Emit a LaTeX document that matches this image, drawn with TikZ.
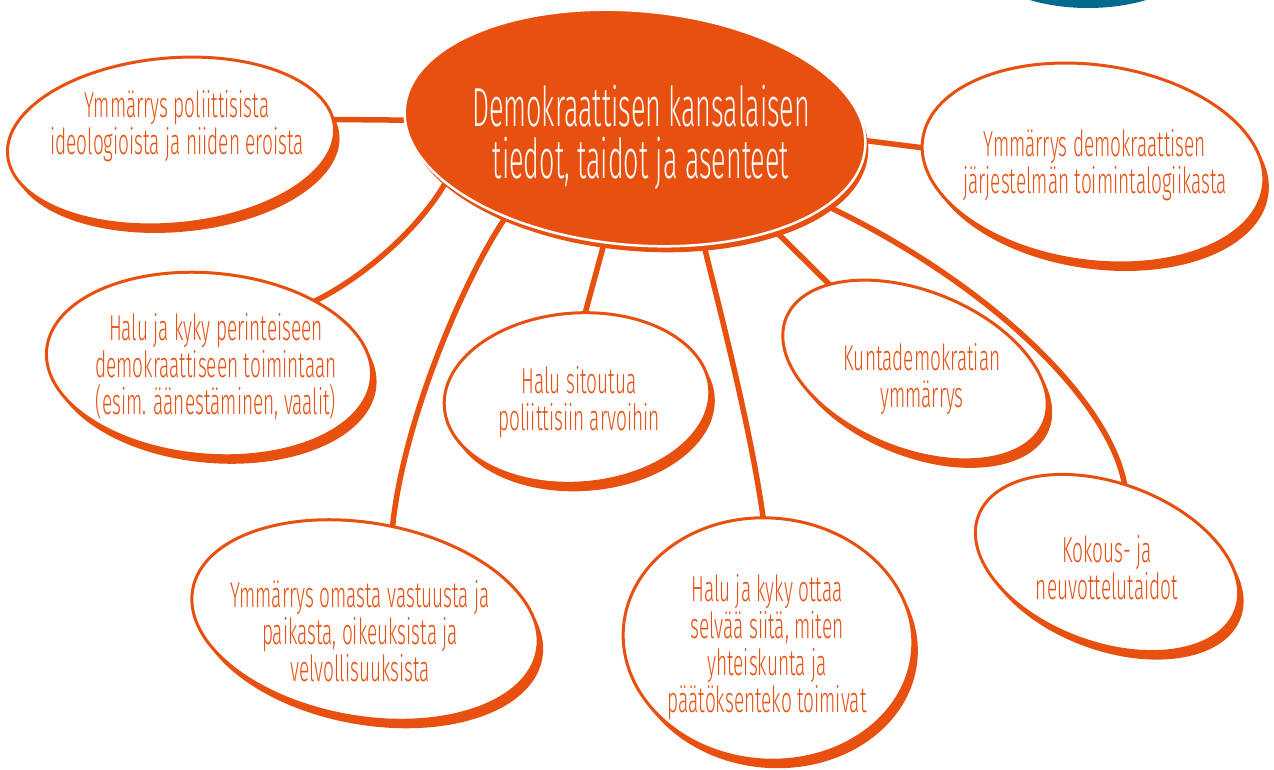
\documentclass[tikz,border=0pt]{standalone}
\usepackage{fontspec}
\setmainfont{Fira Sans}[UprightFont={* Light}, FakeStretch=0.53]
\newfontfamily\hubfont{Fira Sans}[UprightFont={* Light}, FakeStretch=0.49]
\usetikzlibrary{shapes.geometric,shadows,calc}
\definecolor{org}{RGB}{232,80,16}
\definecolor{tealc}{RGB}{0,106,142}
\pgfdeclarelayer{bg}
\pgfsetlayers{bg,main}
\begin{document}
\begin{tikzpicture}[x=1pt,y=-1pt,
  bubble/.style={ellipse, draw=org, line width=3pt, fill=white, inner sep=0pt, outer sep=0pt,
    general shadow={fill=org, shadow xshift=5pt, shadow yshift=-8pt}},
  hub/.style={ellipse, draw=white, line width=2.5pt, fill=org, inner sep=0pt, outer sep=0pt,
    general shadow={fill=org, shadow xshift=3pt, shadow yshift=-6pt}},
  conn/.style={draw=org, line width=5.5pt},
  txt/.style={text=org, align=center, inner sep=0pt, font=\fontsize{36}{37}\selectfont},
  hubtxt/.style={text=white, align=center, inner sep=0pt, font=\hubfont\fontsize{55}{52}\selectfont}]
\useasboundingbox (0,0) rectangle (1274,769);
\fill[tealc] (1088,-45) ellipse [x radius=110pt, y radius=53pt];

% bubbles
\node[hub, minimum width=462pt, minimum height=234pt, rotate=-5] (E2) at (635,128) {};
\node[bubble, minimum width=328pt, minimum height=166pt, rotate=5] (E1) at (171,141) {};
\node[bubble, minimum width=344pt, minimum height=196pt, rotate=-8] (E3) at (1093,163) {};
\node[bubble, minimum width=326pt, minimum height=182pt, rotate=-5] (E4) at (209,364) {};
\node[bubble, minimum width=266pt, minimum height=170pt, rotate=4] (E5) at (577,398) {};
\node[bubble, minimum width=278pt, minimum height=158pt, rotate=-22] (E6) at (915,370) {};
\node[bubble, minimum width=274pt, minimum height=160pt, rotate=-20] (E7) at (1107,563) {};
\node[bubble, minimum width=350pt, minimum height=194pt, rotate=-10] (E8) at (365,620) {};
\node[bubble, minimum width=290pt, minimum height=242pt, rotate=-5] (E9) at (768,639) {};

% texts
\node[hubtxt] (T2) at (641,137) {Demokraattisen kansalaisen\\tiedot, taidot ja asenteet};
\node[txt] (T1) at (177,126) {Ymmärrys poliittisista\\ideologioista ja niiden eroista};
\node[txt] (T3) at (1095,165) {Ymmärrys demokraattisen\\järjestelmän toimintalogiikasta};
\node[txt] (T4) at (216,367) {Halu ja kyky perinteiseen\\demokraattiseen toimintaan\\(esim. äänestäminen, vaalit)};
\node[txt] (T5) at (579,402) {Halu sitoutua\\poliittisiin arvoihin};
\node[txt] (T6) at (922,379) {Kuntademokratian\\ymmärrys};
\node[txt] (T7) at (1107,568) {Kokous- ja\\neuvottelutaidot};
\node[txt] (T8) at (360,631) {Ymmärrys omasta vastuusta ja\\paikasta, oikeuksista ja\\velvollisuuksista};
\node[txt] (T9) at (767,647) {Halu ja kyky ottaa\\selvää siitä, miten\\yhteiskunta ja\\päätöksenteko toimivat};

% connectors
\begin{pgfonlayer}{bg}
\draw[conn] ($(E1.center)!0.95!(E1.3)$) -- ($(E2.center)!0.97!(E2.183)$);
\draw[conn] ($(E2.center)!0.97!(E2.200)$) .. controls (425,222) and (367,277) .. ($(E4.center)!0.95!(E4.36)$);
\draw[conn] ($(E2.center)!0.97!(E2.219)$) .. controls (468,270) and (402,420) .. ($(E8.center)!0.95!(E8.83)$);
\draw[conn] ($(E2.center)!0.97!(E2.260)$) -- ($(E5.center)!0.95!(E5.81)$);
\draw[conn] ($(E2.center)!0.97!(E2.-54)$) .. controls (725,330) and (753,440) .. ($(E9.center)!0.95!(E9.97)$);
\draw[conn] ($(E2.center)!0.97!(E2.-31)$) -- ($(E6.center)!0.95!(E6.157)$);
\draw[conn] ($(E2.center)!0.97!(E2.-17)$) .. controls (985,280) and (1112,400) .. ($(E7.center)!0.95!(E7.96)$);
\draw[conn] ($(E2.center)!0.97!(E2.2)$) -- ($(E3.center)!0.95!(E3.183)$);
\end{pgfonlayer}
\end{tikzpicture}
\end{document}
